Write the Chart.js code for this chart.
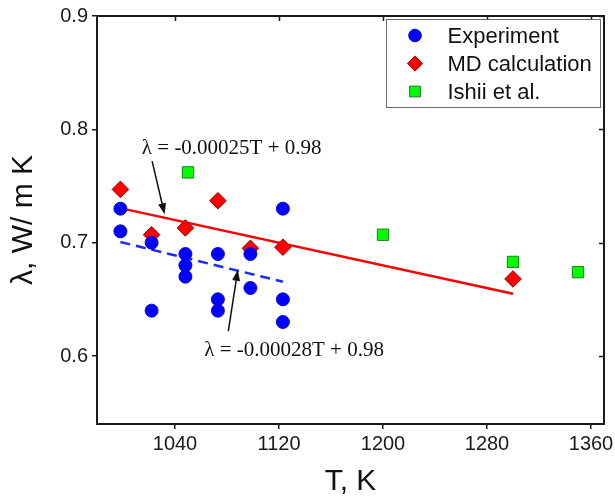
<!DOCTYPE html>
<html>
<head>
<meta charset="utf-8">
<script src="https://cdn.jsdelivr.net/npm/chart.js@4.4.1/dist/chart.umd.min.js"></script>
<style>
  html, body { margin: 0; padding: 0; background: #fff; }
  #wrap { width: 615px; height: 498px; }
</style>
</head>
<body>
<div id="wrap"><canvas id="chart" width="615" height="498"></canvas></div>
<script>
// Thermal conductivity vs temperature: measurements, MD results and literature values
const expT = [998, 998, 1022, 1022, 1048, 1048, 1048, 1073, 1073, 1073, 1098, 1098, 1123, 1123, 1123];
const expLambda = [0.73, 0.71, 0.70, 0.64, 0.69, 0.68, 0.67, 0.69, 0.65, 0.64, 0.69, 0.66, 0.73, 0.65, 0.63];

const mdT = [998, 1022, 1048, 1073, 1098, 1123, 1300];
const mdLambda = [0.747, 0.707, 0.713, 0.737, 0.695, 0.696, 0.668];

const ishiiT = [1050, 1200, 1300, 1350];
const ishiiLambda = [0.762, 0.707, 0.683, 0.674];

// linear fits: lambda = slope * T + intercept
const fitSlopes = [-0.00025, -0.00028];
const fitIntercepts = [0.98, 0.98];
const fitRanges = [[998, 1300], [998, 1123]];

const xTicks = [1040, 1120, 1200, 1280, 1360];
const yTicks = [0.6, 0.7, 0.8, 0.9];

const seriesNames = ['Experiment', 'MD calculation', 'Ishii et al.'];

const toPoints = (xs, ys) => xs.map((x, i) => ({ x: x, y: ys[i] }));
const fitPoints = (k) => fitRanges[k].map(t => ({ x: t, y: fitSlopes[k] * t + fitIntercepts[k] }));
const fitLabel = (k) => `λ = ${fitSlopes[k]}T + ${fitIntercepts[k]}`;

// where the fit labels sit and where their arrows point (data coordinates)
const labelAnchors = [{ x: 1014.5, y: 0.783 }, { x: 1062.5, y: 0.605 }];
const arrowTails = [{ x: 1022.4, y: 0.772 }, { x: 1081, y: 0.622 }];
const arrowHeads = [{ x: 1032, y: 0.725 }, { x: 1088.3, y: 0.676 }];

const axisColor = '#1a1a1a';
const sans = 'Liberation Sans, Arial, sans-serif';
const serif = 'Liberation Serif, Times New Roman, serif';

// top/right frame with inward ticks
const framePlugin = {
    id: 'frame',
    afterDraw(chart) {
        const { ctx, chartArea: a, scales } = chart;
        ctx.save();
        ctx.strokeStyle = axisColor;
        ctx.lineWidth = 2;
        ctx.beginPath();
        ctx.moveTo(a.left - 1, a.top);
        ctx.lineTo(a.right, a.top);
        ctx.lineTo(a.right, a.bottom + 1);
        ctx.stroke();
        ctx.lineWidth = 1.5;
        ctx.beginPath();
        xTicks.forEach(v => {
            const px = Math.round(scales.x.getPixelForValue(v)) + 0.5;
            ctx.moveTo(px, a.top);
            ctx.lineTo(px, a.top + 5);
        });
        yTicks.forEach(v => {
            const py = Math.round(scales.y.getPixelForValue(v)) + 0.5;
            ctx.moveTo(a.right, py);
            ctx.lineTo(a.right - 5, py);
        });
        ctx.stroke();
        ctx.restore();
    }
};

// fit equations with arrows
const notesPlugin = {
    id: 'notes',
    afterDatasetsDraw(chart) {
        const { ctx, scales } = chart;
        ctx.save();
        ctx.fillStyle = '#111';
        ctx.strokeStyle = '#111';
        ctx.font = '21px ' + serif;
        ctx.textBaseline = 'middle';
        ctx.textAlign = 'left';
        for (let k = 0; k < 2; k++) {
            const lx = scales.x.getPixelForValue(labelAnchors[k].x);
            const ly = scales.y.getPixelForValue(labelAnchors[k].y);
            ctx.fillText(fitLabel(k), lx, ly);

            const x0 = scales.x.getPixelForValue(arrowTails[k].x);
            const y0 = scales.y.getPixelForValue(arrowTails[k].y);
            const x1 = scales.x.getPixelForValue(arrowHeads[k].x);
            const y1 = scales.y.getPixelForValue(arrowHeads[k].y);
            const ang = Math.atan2(y1 - y0, x1 - x0);
            const headLen = 11, headW = 4;
            ctx.lineWidth = 1.5;
            ctx.beginPath();
            ctx.moveTo(x0, y0);
            ctx.lineTo(x1 - Math.cos(ang) * headLen * 0.8, y1 - Math.sin(ang) * headLen * 0.8);
            ctx.stroke();
            ctx.beginPath();
            ctx.moveTo(x1, y1);
            ctx.lineTo(x1 - Math.cos(ang) * headLen - Math.sin(ang) * headW, y1 - Math.sin(ang) * headLen + Math.cos(ang) * headW);
            ctx.lineTo(x1 - Math.cos(ang) * headLen + Math.sin(ang) * headW, y1 - Math.sin(ang) * headLen - Math.cos(ang) * headW);
            ctx.closePath();
            ctx.fill();
        }
        ctx.restore();
    }
};

// boxed legend in the upper right corner of the plot
const legendBoxPlugin = {
    id: 'legendBox',
    afterDraw(chart) {
        const { ctx, chartArea: a } = chart;
        const boxX = a.right - 217.5, boxY = a.top + 3.5, boxW = 214, boxH = 88;
        ctx.save();
        ctx.fillStyle = '#fff';
        ctx.strokeStyle = '#6a6a6a';
        ctx.lineWidth = 1;
        ctx.fillRect(boxX, boxY, boxW, boxH);
        ctx.strokeRect(boxX, boxY, boxW, boxH);
        ctx.font = '22px ' + sans;
        ctx.textBaseline = 'middle';
        ctx.textAlign = 'left';
        seriesNames.forEach((name, i) => {
            const ds = chart.data.datasets[i];
            const cy = boxY + 16 + i * 28;
            const cx = boxX + 28.5;
            ctx.fillStyle = ds.backgroundColor;
            ctx.strokeStyle = ds.borderColor;
            ctx.lineWidth = ds.borderWidth;
            Chart.helpers.drawPoint(ctx, {
                pointStyle: ds.pointStyle,
                radius: ds.legendRadius,
                rotation: 0,
                borderWidth: ds.borderWidth
            }, cx, cy);
            ctx.fillStyle = '#111';
            ctx.fillText(name, boxX + 61, cy + 1);
        });
        ctx.restore();
    }
};

const ctx = document.getElementById('chart').getContext('2d');
const chart = new Chart(ctx, {
    type: 'scatter',
    data: {
        datasets: [
            {
                label: seriesNames[0],
                data: toPoints(expT, expLambda),
                pointStyle: 'circle',
                pointRadius: 6.5,
                legendRadius: 6.3,
                backgroundColor: '#0000ff',
                borderColor: '#0a0ad0',
                borderWidth: 1
            },
            {
                label: seriesNames[1],
                data: toPoints(mdT, mdLambda),
                pointStyle: 'rectRot',
                pointRadius: 8.3,
                legendRadius: 7.6,
                backgroundColor: '#ff0000',
                borderColor: '#9a0000',
                borderWidth: 1
            },
            {
                label: seriesNames[2],
                data: toPoints(ishiiT, ishiiLambda),
                pointStyle: 'rect',
                pointRadius: 8,
                legendRadius: 7.6,
                backgroundColor: '#00ff00',
                borderColor: '#1f7a1f',
                borderWidth: 1
            },
            {
                type: 'line',
                label: 'MD fit',
                data: fitPoints(0),
                showLine: true,
                pointRadius: 0,
                borderColor: '#ff0000',
                borderWidth: 2.5,
                fill: false
            },
            {
                type: 'line',
                label: 'Experiment fit',
                data: fitPoints(1),
                showLine: true,
                pointRadius: 0,
                borderColor: '#1a2bff',
                borderWidth: 2.5,
                borderDash: [10, 6],
                fill: false
            }
        ]
    },
    options: {
        responsive: false,
        animation: false,
        devicePixelRatio: 1,
        layout: { padding: { left: 0, right: 11, top: 16, bottom: 0 } },
        plugins: {
            legend: { display: false },
            tooltip: { enabled: false }
        },
        scales: {
            x: {
                type: 'linear',
                position: 'bottom',
                min: 980,
                max: 1370,
                afterBuildTicks: (scale) => { scale.ticks = xTicks.map(v => ({ value: v })); },
                afterFit: (scale) => {
                    scale.height = 74;
                    // the last label may spill into the right margin
                    scale.paddingLeft = 0;
                    scale.paddingRight = 0;
                },
                grid: { drawOnChartArea: false, drawTicks: true, tickLength: 5, color: axisColor, lineWidth: 1.5 },
                border: { display: true, color: axisColor, width: 2 },
                ticks: {
                    font: { family: sans, size: 20 },
                    color: '#1a1a1a',
                    padding: 3,
                    maxRotation: 0,
                    callback: (v) => String(v)
                },
                title: {
                    display: true,
                    text: 'T, K',
                    font: { family: sans, size: 30, lineHeight: 1.067 },
                    color: '#111',
                    padding: { top: 0, bottom: 0 }
                }
            },
            y: {
                type: 'linear',
                position: 'left',
                min: 0.54,
                max: 0.9,
                afterBuildTicks: (scale) => { scale.ticks = yTicks.map(v => ({ value: v })); },
                afterFit: (scale) => { scale.width = 97; },
                grid: { drawOnChartArea: false, drawTicks: true, tickLength: 5, color: axisColor, lineWidth: 1.5 },
                border: { display: true, color: axisColor, width: 2 },
                ticks: {
                    font: { family: sans, size: 20 },
                    color: '#1a1a1a',
                    padding: 4,
                    callback: (v) => v.toFixed(1)
                },
                title: {
                    display: true,
                    text: 'λ, W/ m K',
                    font: { family: sans, size: 30 },
                    color: '#111',
                    padding: { top: 6, bottom: 0 }
                }
            }
        }
    },
    plugins: [notesPlugin, framePlugin, legendBoxPlugin]
});
</script>
</body>
</html>
